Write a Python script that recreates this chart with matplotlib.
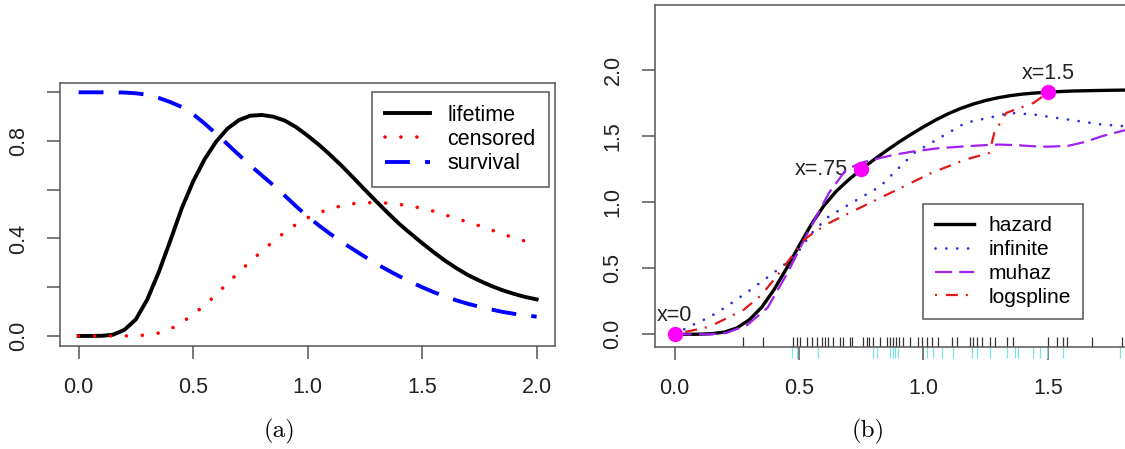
import numpy as np
import matplotlib
matplotlib.use("Agg")
import matplotlib.pyplot as plt

plt.rcParams.update({"font.family": ["Liberation Sans", "DejaVu Sans"], "font.size": 15.5})

# ---- panel (a): densities and survival ----
grid_a = [0.0, 0.05, 0.1, 0.15, 0.2, 0.25, 0.3, 0.35, 0.4, 0.45, 0.5, 0.55, 0.6, 0.65,
          0.7, 0.75, 0.8, 0.85, 0.9, 0.95, 1.0, 1.05, 1.1, 1.15, 1.2, 1.25, 1.3, 1.35,
          1.4, 1.45, 1.5, 1.55, 1.6, 1.65, 1.7, 1.75, 1.8, 1.85, 1.9, 1.95, 2.0]
life_y = [0.0, 0.0, 0.0005, 0.005, 0.025, 0.068, 0.15, 0.262, 0.39, 0.523, 0.634, 0.725,
          0.797, 0.851, 0.886, 0.904, 0.907, 0.9, 0.884, 0.857, 0.822, 0.784, 0.742, 0.697,
          0.649, 0.6, 0.552, 0.505, 0.46, 0.42, 0.381, 0.344, 0.309, 0.278, 0.25, 0.227,
          0.206, 0.188, 0.173, 0.16, 0.15]
cens_y = [0.0, 0.0, 0.0, 0.0, 0.0, 0.001, 0.004, 0.012, 0.028, 0.055, 0.088, 0.126, 0.169,
          0.216, 0.262, 0.306, 0.348, 0.388, 0.426, 0.458, 0.485, 0.506, 0.522, 0.535, 0.543,
          0.547, 0.547, 0.545, 0.54, 0.533, 0.524, 0.512, 0.497, 0.482, 0.467, 0.452, 0.436,
          0.419, 0.403, 0.389, 0.375]
surv_y = [1.0, 1.0, 1.0, 1.0, 0.999, 0.996, 0.99, 0.977, 0.96, 0.94, 0.91, 0.872, 0.83,
          0.787, 0.743, 0.7, 0.659, 0.619, 0.576, 0.532, 0.49, 0.453, 0.418, 0.385, 0.355,
          0.325, 0.296, 0.27, 0.245, 0.222, 0.2, 0.18, 0.162, 0.146, 0.132, 0.12, 0.109,
          0.099, 0.091, 0.085, 0.079]

# ---- panel (b): hazard estimates ----
haz_x = [0.0, 0.05, 0.1, 0.15, 0.2, 0.25, 0.3, 0.35, 0.4, 0.45, 0.5, 0.55, 0.6, 0.65,
         0.7, 0.75, 0.8, 0.85, 0.9, 0.95, 1.0, 1.05, 1.1, 1.15, 1.2, 1.25, 1.3, 1.35,
         1.4, 1.45, 1.5, 1.55, 1.6, 1.7, 1.8, 1.9, 2.0]
haz_y = [0.0, 0.0, 0.001, 0.005, 0.017, 0.048, 0.11, 0.205, 0.34, 0.5, 0.67, 0.835, 0.975,
         1.085, 1.172, 1.25, 1.322, 1.39, 1.455, 1.515, 1.572, 1.625, 1.672, 1.712, 1.745,
         1.772, 1.793, 1.809, 1.821, 1.829, 1.835, 1.84, 1.844, 1.848, 1.851, 1.852, 1.852]

inf_x = [0.0, 0.071, 0.14, 0.208, 0.305, 0.414, 0.483, 0.551, 0.62, 0.757, 0.826, 0.894,
         0.963, 1.032, 1.1, 1.169, 1.292, 1.347, 1.443, 1.58, 1.717, 1.81, 2.0]
inf_y = [0.0, 0.07, 0.13, 0.21, 0.337, 0.489, 0.59, 0.767, 0.894, 1.046, 1.12, 1.248,
         1.375, 1.451, 1.527, 1.603, 1.653, 1.678, 1.666, 1.628, 1.59, 1.577, 1.56]

muh_x = [0.0, 0.14, 0.208, 0.291, 0.373, 0.455, 0.538, 0.62, 0.689, 0.75, 0.798, 0.88,
         0.963, 1.06, 1.169, 1.25, 1.306, 1.37, 1.443, 1.5, 1.58, 1.65, 1.717, 1.81, 2.0]
muh_y = [0.0, 0.0, 0.01, 0.07, 0.2, 0.47, 0.78, 1.071, 1.248, 1.3, 1.324, 1.36, 1.387,
         1.41, 1.425, 1.434, 1.438, 1.434, 1.425, 1.422, 1.428, 1.458, 1.501, 1.547, 1.62]

logs_x = [0.0, 0.14, 0.277, 0.35, 0.414, 0.483, 0.51, 0.551, 0.62, 0.757, 0.894, 1.032,
          1.169, 1.265, 1.285, 1.333, 1.443, 1.5]
logs_y = [0.0, 0.058, 0.185, 0.3, 0.45, 0.62, 0.7, 0.76, 0.843, 0.97, 1.096, 1.223,
          1.324, 1.375, 1.527, 1.678, 1.754, 1.83]

mark_x = [0.0, 0.75, 1.5]
mark_y = [0.0, 1.25, 1.835]

rug_black = [0.276, 0.357, 0.477, 0.491, 0.504, 0.531, 0.551, 0.571, 0.591, 0.605, 0.618,
             0.638, 0.665, 0.678, 0.705, 0.712, 0.758, 0.772, 0.783, 0.799, 0.826, 0.853,
             0.866, 0.879, 0.89, 0.903, 0.919, 0.946, 0.98, 0.993, 1.013, 1.033, 1.06,
             1.114, 1.134, 1.187, 1.201, 1.214, 1.234, 1.268, 1.288, 1.335, 1.361, 1.502,
             1.536, 1.562, 1.576, 1.676, 1.797]
rug_cyan = [0.471, 0.491, 0.578, 0.799, 0.812, 0.866, 0.879, 0.886, 0.899, 1.013, 1.04,
            1.074, 1.12, 1.194, 1.214, 1.268, 1.335, 1.368, 1.381, 1.442, 1.469, 1.496,
            1.562, 1.79]

spine_col = "#555555"
txt_col = "#222222"

fig = plt.figure(figsize=(11.25, 4.49), dpi=100)
axa = fig.add_axes([0.0536, 0.2301, 0.4397, 0.5860])
axb = fig.add_axes([0.5820, 0.2272, 0.4776, 0.7617])

for ax in (axa, axb):
    for s in ax.spines.values():
        s.set_color(spine_col)
        s.set_linewidth(1.1)
    ax.tick_params(length=9.5, width=1.1, color=spine_col, labelcolor=txt_col, pad=13)

# (a)
axa.plot(grid_a, life_y, color="black", lw=2.8, label="lifetime")
axa.plot(grid_a, cens_y, color="#ff0000", lw=2.6, linestyle=(0, (0.01, 4.4)),
         dash_capstyle="round", label="censored")
axa.plot(grid_a, surv_y, color="#0000ff", lw=2.8, linestyle=(0, (6.4, 3.9)), label="survival")
axa.set_xlim(-0.08, 2.08)
axa.set_ylim(-0.04, 1.04)
axa.set_xticks([0, 0.5, 1.0, 1.5, 2.0])
axa.set_xticklabels(["0.0", "0.5", "1.0", "1.5", "2.0"])
axa.set_yticks([0, 0.2, 0.4, 0.6, 0.8, 1.0])
axa.set_yticklabels(["0.0", "", "0.4", "", "0.8", ""], rotation=90, va="center")
lga = axa.legend(loc="upper right", bbox_to_anchor=(0.987, 0.965), borderaxespad=0,
                 fancybox=False, framealpha=1, edgecolor=spine_col, handlelength=2.1,
                 handletextpad=0.8, labelspacing=0.15, borderpad=0.6, fontsize=15.5)
lga.get_frame().set_linewidth(1.1)

# (b)
axb.plot(haz_x, haz_y, color="black", lw=2.4, label="hazard", zorder=3)
axb.plot(inf_x, inf_y, color="#2f2fd8", lw=2.0, linestyle=(0, (0.01, 3.9)),
         dash_capstyle="round", label="infinite", zorder=4)
axb.plot(muh_x, muh_y, color="#a020f0", lw=1.6, linestyle=(0, (7.7, 3.2)), label="muhaz", zorder=4)
axb.plot(logs_x, logs_y, color="#e01818", lw=1.6, linestyle=(0, (0.9, 4, 5.4, 3.6)),
         label="logspline", zorder=4)
axb.plot(mark_x, mark_y, "o", color="#ff00ff", markersize=10, zorder=5)
axb.text(0.0, 0.14, "x=0", ha="center", va="center", color=txt_col)
axb.text(0.696, 1.25, "x=.75", ha="right", va="center", color=txt_col)
axb.text(1.5, 1.977, "x=1.5", ha="center", va="center", color=txt_col)

trans = axb.get_xaxis_transform()
axb.vlines(rug_black, 0, 0.03, transform=trans, color="#333333", lw=0.9)
axb.vlines(rug_cyan, -0.032, 0, transform=trans, color="#7fe3e3", lw=0.9, clip_on=False)

axb.set_xlim(-0.08, 2.08)
axb.set_ylim(-0.096, 2.496)
axb.set_xticks([0, 0.5, 1.0, 1.5])
axb.set_xticklabels(["0.0", "0.5", "1.0", "1.5"])
axb.set_yticks([0, 0.5, 1.0, 1.5, 2.0])
axb.set_yticklabels(["0.0", "0.5", "1.0", "1.5", "2.0"], rotation=90, va="center")
lgb = axb.legend(loc="lower left", bbox_to_anchor=(0.499, 0.081), borderaxespad=0,
                 fancybox=False, framealpha=1, edgecolor=spine_col, handlelength=1.85,
                 handletextpad=0.7, labelspacing=0.23, borderpad=0.6, fontsize=15)
lgb.get_frame().set_linewidth(1.1)

fig.text(280 / 1125, 1 - 431 / 449, "(a)", ha="center", va="center",
         fontfamily="cmr10", fontsize=18)
fig.text(868 / 1125, 1 - 431 / 449, "(b)", ha="center", va="center",
         fontfamily="cmr10", fontsize=18)

fig.savefig("out.png", dpi=100)
